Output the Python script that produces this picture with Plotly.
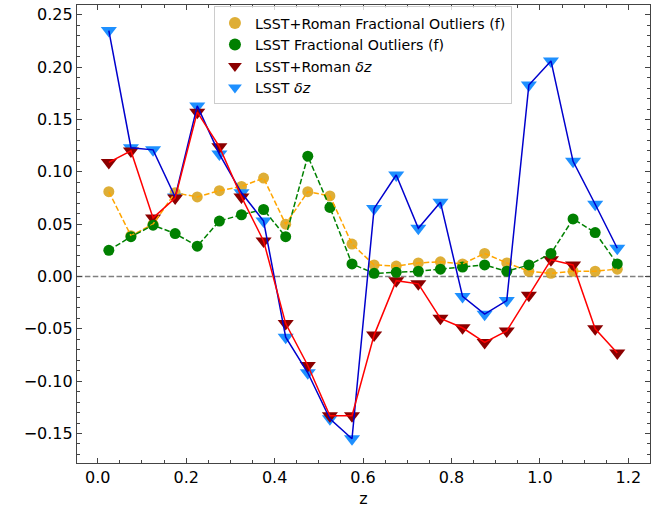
import plotly.graph_objects as go

z = [0.025, 0.075, 0.125, 0.175, 0.225, 0.275, 0.325, 0.375, 0.425, 0.475, 0.525, 0.575,
     0.625, 0.675, 0.725, 0.775, 0.825, 0.875, 0.925, 0.975, 1.025, 1.075, 1.125, 1.175]

roman_f = [0.081, 0.039, 0.050, 0.080, 0.076, 0.082, 0.086, 0.094, 0.050, 0.081, 0.077, 0.031,
           0.011, 0.010, 0.013, 0.014, 0.012, 0.022, 0.013, 0.005, 0.003, 0.005, 0.005, 0.007]
lsst_f = [0.025, 0.038, 0.049, 0.041, 0.029, 0.053, 0.059, 0.064, 0.038, 0.115, 0.066, 0.012,
          0.003, 0.004, 0.005, 0.007, 0.009, 0.011, 0.005, 0.011, 0.022, 0.055, 0.042, 0.012]
roman_dz = [0.109, 0.120, 0.056, 0.075, 0.157, 0.124, 0.076, 0.034, -0.045, -0.085, -0.133, -0.133,
            -0.056, -0.004, -0.007, -0.040, -0.049, -0.063, -0.052, -0.018, 0.016, 0.011, -0.050, -0.073]
lsst_dz = [0.235, 0.123, 0.121, 0.076, 0.163, 0.117, 0.080, 0.053, -0.058, -0.092, -0.136, -0.155,
           0.065, 0.097, 0.046, 0.071, -0.019, -0.036, -0.023, 0.183, 0.206, 0.110, 0.069, 0.027]

labels = ["LSST+Roman Fractional Outliers (f)", "LSST Fractional Outliers (f)",
          "LSST+Roman <i>δz</i>", "LSST <i>δz</i>"]

fig = go.Figure()

# scatter markers (drawn below the lines, as in matplotlib)
fig.add_trace(go.Scatter(x=z, y=roman_f, mode="markers", name=labels[0], legendrank=1,
                         marker=dict(symbol="circle", size=11, color="goldenrod", opacity=0.9)))
fig.add_trace(go.Scatter(x=z, y=lsst_dz, mode="markers", name=labels[3], legendrank=4,
                         marker=dict(symbol="triangle-down", size=14, color="dodgerblue")))
fig.add_trace(go.Scatter(x=z, y=roman_dz, mode="markers", name=labels[2], legendrank=3,
                         marker=dict(symbol="triangle-down", size=14, color="darkred")))
fig.add_trace(go.Scatter(x=z, y=lsst_f, mode="markers", name=labels[1], legendrank=2,
                         marker=dict(symbol="circle", size=11, color="green")))

# connecting lines
fig.add_trace(go.Scatter(x=z, y=roman_f, mode="lines", showlegend=False,
                         line=dict(color="orange", width=1.5, dash="5.5px,2.4px")))
fig.add_trace(go.Scatter(x=z, y=lsst_f, mode="lines", showlegend=False,
                         line=dict(color="green", width=1.5, dash="5.5px,2.4px")))
fig.add_trace(go.Scatter(x=z, y=lsst_dz, mode="lines", showlegend=False,
                         line=dict(color="mediumblue", width=1.5)))
fig.add_trace(go.Scatter(x=z, y=roman_dz, mode="lines", showlegend=False,
                         line=dict(color="red", width=1.5)))

fig.add_shape(type="line", xref="paper", x0=0, x1=1, yref="y", y0=0, y1=0,
              line=dict(color="gray", width=1.3, dash="5.5px,2.4px"), layer="below")

axis_common = dict(
    showgrid=False, zeroline=False, showline=True, linecolor="#444", linewidth=1.2,
    mirror="allticks", ticks="inside", ticklen=5, tickwidth=1, tickcolor="#444",
    tickfont=dict(family="DejaVu Sans", size=16, color="black"),
)

fig.update_xaxes(range=[-0.047, 1.249], dtick=0.2, tick0=0, tickformat=".1f",
                 minor=dict(dtick=0.05, ticks="inside", ticklen=3, tickcolor="#444"),
                 title=dict(text="z", font=dict(family="DejaVu Sans", size=16, color="black"), standoff=6),
                 **axis_common)
fig.update_yaxes(range=[-0.1782, 0.2594], dtick=0.05, tick0=0, tickformat=".2f",
                 minor=dict(dtick=0.01, ticks="inside", ticklen=3, tickcolor="#444"),
                 **axis_common)

fig.update_layout(
    width=662, height=508,
    margin=dict(l=77, r=12, t=4, b=44),
    paper_bgcolor="white", plot_bgcolor="white",
    font=dict(family="DejaVu Sans", color="black"),
    legend=dict(x=0.239, y=0.997, xanchor="left", yanchor="top",
                bgcolor="rgba(255,255,255,0.8)", bordercolor="#cccccc", borderwidth=1,
                font=dict(family="DejaVu Sans", size=14.2, color="black"),
                tracegroupgap=0, itemsizing="constant"),
)

fig.write_html("out.html", config={"displayModeBar": False})
